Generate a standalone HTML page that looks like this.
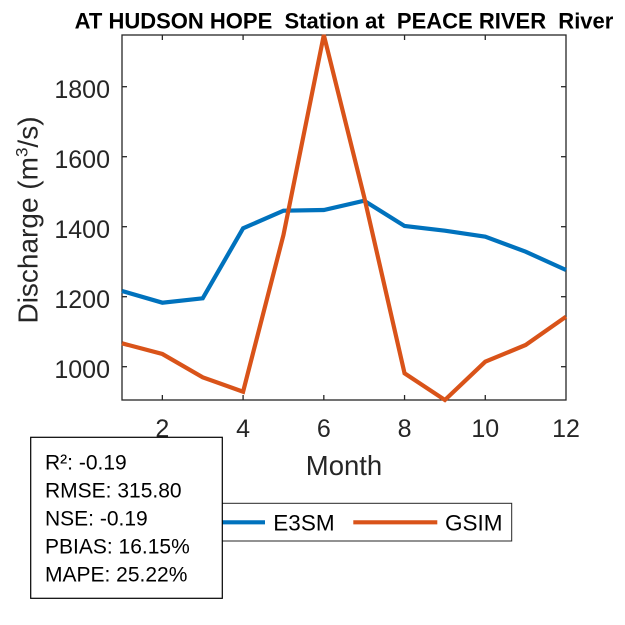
<!DOCTYPE html>
<html>
<head>
<meta charset="utf-8">
<style>
  html, body { margin:0; padding:0; background:#ffffff; }
  svg { display:block; }
  text { font-family: "Liberation Sans", Arial, sans-serif; }
</style>
</head>
<body>
<svg width="625" height="625" viewBox="0 0 625 625" xmlns="http://www.w3.org/2000/svg">
  <rect x="0" y="0" width="625" height="625" fill="#ffffff"/>

  <!-- Title -->
  <text x="344" y="28.5" text-anchor="middle" font-size="22" font-weight="bold" fill="#000" style="white-space:pre">AT HUDSON HOPE  Station at  PEACE RIVER  River</text>

  <!-- Axes box -->
  <rect x="122" y="35" width="444" height="365" fill="#ffffff" stroke="#262626" stroke-width="1.3"/>

  <!-- X ticks (bottom & top) -->
  <g stroke="#262626" stroke-width="1.3">
    <line x1="162.36" y1="400" x2="162.36" y2="395"/>
    <line x1="243.09" y1="400" x2="243.09" y2="395"/>
    <line x1="323.82" y1="400" x2="323.82" y2="395"/>
    <line x1="404.55" y1="400" x2="404.55" y2="395"/>
    <line x1="485.27" y1="400" x2="485.27" y2="395"/>
    <line x1="162.36" y1="35" x2="162.36" y2="40"/>
    <line x1="243.09" y1="35" x2="243.09" y2="40"/>
    <line x1="323.82" y1="35" x2="323.82" y2="40"/>
    <line x1="404.55" y1="35" x2="404.55" y2="40"/>
    <line x1="485.27" y1="35" x2="485.27" y2="40"/>
    <!-- Y ticks (left & right) -->
    <line x1="122" y1="366.7" x2="127" y2="366.7"/>
    <line x1="122" y1="296.7" x2="127" y2="296.7"/>
    <line x1="122" y1="226.7" x2="127" y2="226.7"/>
    <line x1="122" y1="156.7" x2="127" y2="156.7"/>
    <line x1="122" y1="86.7" x2="127" y2="86.7"/>
    <line x1="566" y1="366.7" x2="561" y2="366.7"/>
    <line x1="566" y1="296.7" x2="561" y2="296.7"/>
    <line x1="566" y1="226.7" x2="561" y2="226.7"/>
    <line x1="566" y1="156.7" x2="561" y2="156.7"/>
    <line x1="566" y1="86.7" x2="561" y2="86.7"/>
  </g>

  <!-- Y tick labels -->
  <g font-size="25" fill="#262626" text-anchor="end">
    <text x="110" y="378.2">1000</text>
    <text x="110" y="308.2">1200</text>
    <text x="110" y="238.2">1400</text>
    <text x="110" y="168.2">1600</text>
    <text x="110" y="98.2">1800</text>
  </g>

  <!-- X tick labels -->
  <g font-size="25" fill="#262626" text-anchor="middle">
    <text x="162.36" y="437">2</text>
    <text x="243.09" y="437">4</text>
    <text x="323.82" y="437">6</text>
    <text x="404.55" y="437">8</text>
    <text x="485.27" y="437">10</text>
    <text x="566" y="437">12</text>
  </g>

  <!-- X label -->
  <text x="344" y="475" text-anchor="middle" font-size="27.5" fill="#262626">Month</text>

  <!-- Y label -->
  <text transform="translate(37.3,220) rotate(-90)" text-anchor="middle" font-size="28" fill="#262626">Discharge (m<tspan font-size="17" dy="-10">3</tspan><tspan dy="10">/s)</tspan></text>

  <!-- E3SM series -->
  <polyline fill="none" stroke="#0072BD" stroke-width="4.2" stroke-linejoin="miter"
    points="122,291 162.36,302.7 202.73,298.3 243.09,228.3 283.45,210.7 323.82,210 364.18,200.7 404.55,226 444.91,230.7 485.27,236.7 525.64,251.7 566,270"/>

  <!-- GSIM series -->
  <polyline fill="none" stroke="#D95319" stroke-width="4.2" stroke-linejoin="miter" stroke-miterlimit="4"
    points="122,343.3 162.36,354 202.73,377.3 243.09,391.7 283.45,235 323.82,35 364.18,197 404.55,373.3 444.91,400 485.27,361.7 525.64,345 566,316.7"/>

  <!-- Legend -->
  <rect x="173" y="503.3" width="338.7" height="37.7" fill="#ffffff" stroke="#262626" stroke-width="1"/>
  <line x1="181" y1="522.3" x2="265" y2="522.3" stroke="#0072BD" stroke-width="4.2"/>
  <text x="273.3" y="530.7" font-size="22.5" fill="#000">E3SM</text>
  <line x1="353.3" y1="522.3" x2="437.3" y2="522.3" stroke="#D95319" stroke-width="4.2"/>
  <text x="445" y="530.7" font-size="22.5" fill="#000">GSIM</text>

  <!-- Stats box -->
  <rect x="30.7" y="437.3" width="191.6" height="161" fill="#ffffff" stroke="#000" stroke-width="1.2"/>
  <g font-size="21" fill="#000">
    <text x="45" y="469.3">R²: -0.19</text>
    <text x="45" y="497.7">RMSE: 315.80</text>
    <text x="45" y="525.5">NSE: -0.19</text>
    <text x="45" y="553.3">PBIAS: 16.15%</text>
    <text x="45" y="581.7">MAPE: 25.22%</text>
  </g>
</svg>
</body>
</html>
